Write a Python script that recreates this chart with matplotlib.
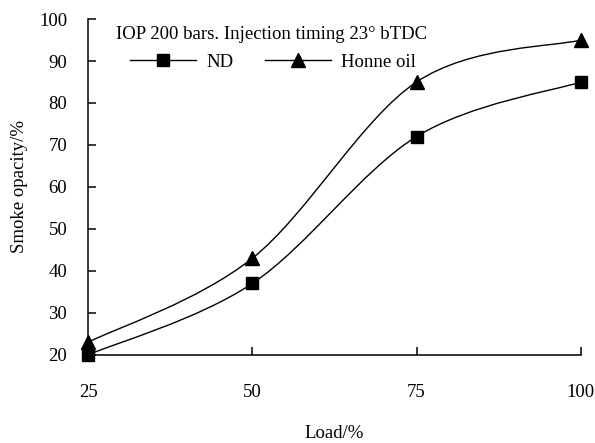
import numpy as np
import matplotlib
matplotlib.use('Agg')
import matplotlib.pyplot as plt
from matplotlib.path import Path
from matplotlib.patches import PathPatch
from matplotlib.lines import Line2D

plt.rcParams['font.family'] = 'Liberation Serif'

load = [25, 50, 75, 100]
nd = [20, 37, 72, 85]
honne = [23, 43, 85, 95]


def smooth_path(xs, ys):
    # Excel-style smoothed line: Catmull-Rom segments as cubic Bezier
    pts = np.column_stack([xs, ys]).astype(float)
    verts = [pts[0]]
    codes = [Path.MOVETO]
    n = len(pts)
    for i in range(n - 1):
        p0 = pts[i - 1] if i > 0 else pts[i]
        p1 = pts[i]
        p2 = pts[i + 1]
        p3 = pts[i + 2] if i + 2 < n else pts[i + 1]
        c1 = p1 + (p2 - p0) / 6.0
        c2 = p2 - (p3 - p1) / 6.0
        verts += [c1, c2, p2]
        codes += [Path.CURVE4] * 3
    return Path(verts, codes)


fs = 13.5
fig = plt.figure(figsize=(5.95, 4.43), dpi=100)
ax = fig.add_axes([0.148, 0.199, 0.828, 0.758])

for ys, mk, ms in [(nd, 's', 8.5), (honne, '^', 10)]:
    ax.add_patch(PathPatch(smooth_path(load, ys), fill=False, lw=1.0, ec='black'))
    ax.plot(load, ys, ls='none', marker=mk, ms=ms, color='black', clip_on=False, zorder=3)

ax.set_xlim(25, 100)
ax.set_ylim(20, 100)
ax.set_xticks(load)
ax.set_yticks(range(20, 101, 10))
ax.spines['top'].set_visible(False)
ax.spines['right'].set_visible(False)
ax.spines['left'].set_linewidth(1.1)
ax.spines['bottom'].set_linewidth(1.1)
ax.tick_params(axis='both', direction='in', length=6, width=1.1, labelsize=fs)
ax.tick_params(axis='x', pad=21)
ax.tick_params(axis='y', pad=15)

ax.set_xlabel('Load/%', fontsize=fs, labelpad=17)
ax.set_ylabel('Smoke opacity/%', fontsize=fs, labelpad=8)

ax.text(0.057, 0.955, 'IOP 200 bars. Injection timing 23° bTDC',
        transform=ax.transAxes, fontsize=fs, va='center', ha='left')

handles = [Line2D([], [], color='black', lw=1.0, marker='s', ms=8.5),
           Line2D([], [], color='black', lw=1.0, marker='^', ms=10)]
ax.legend(handles, ['ND', 'Honne oil'], ncol=2, frameon=False, fontsize=fs,
          loc='upper left', bbox_to_anchor=(0.07, 0.92), handlelength=3.5,
          columnspacing=1.7, handletextpad=0.55, borderaxespad=0)

fig.savefig('out.png', dpi=100)
